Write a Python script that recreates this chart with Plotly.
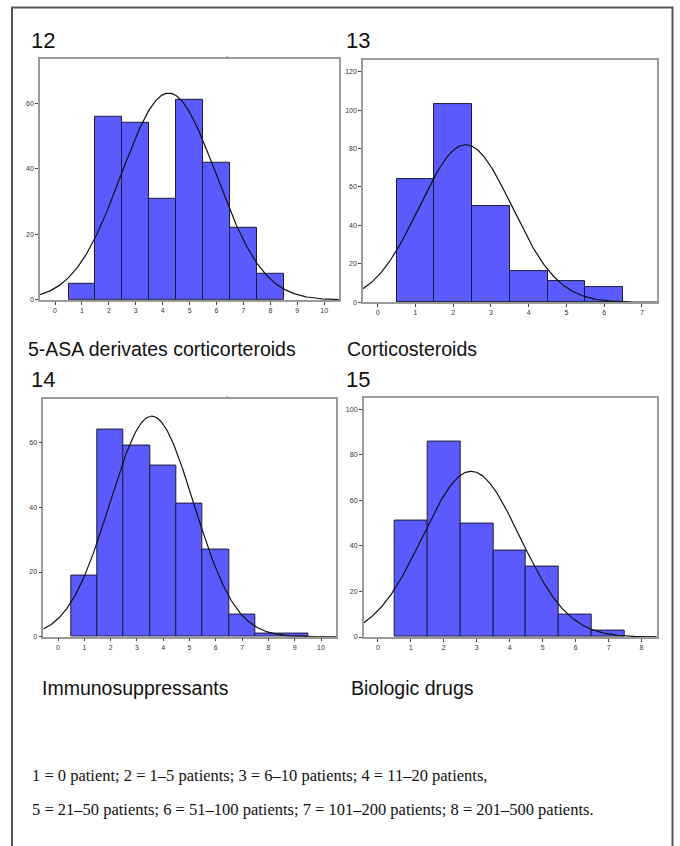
import numpy as np
import plotly.graph_objects as go

W, H = 680, 846

# ---------------- data ----------------
categories_12 = [1, 2, 3, 4, 5, 6, 7, 8]
counts_12 = [5, 56, 54, 31, 61, 42, 22, 8]

categories_13 = [1, 2, 3, 4, 5, 6]
counts_13 = [64, 103, 50, 16, 11, 8]

categories_14 = [1, 2, 3, 4, 5, 6, 7, 8, 9]
counts_14 = [19, 64, 59, 53, 41, 27, 7, 1, 1]

categories_15 = [1, 2, 3, 4, 5, 6, 7]
counts_15 = [51, 86, 50, 38, 31, 10, 3]

panel_labels = ["12", "13", "14", "15"]
captions = ["5-ASA derivates corticorteroids", "Corticosteroids",
            "Immunosuppressants", "Biologic drugs"]
x_tick_values_12 = list(range(0, 11))
x_tick_values_13 = list(range(0, 8))
x_tick_values_14 = list(range(0, 11))
x_tick_values_15 = list(range(0, 9))
y_tick_values_12 = [0, 20, 40, 60]
y_tick_values_13 = [0, 20, 40, 60, 80, 100, 120]
y_tick_values_14 = [0, 20, 40, 60]
y_tick_values_15 = [0, 20, 40, 60, 80, 100]
footnote_lines = [
    "1 = 0 patient; 2 = 1\u20135 patients; 3 = 6\u201310 patients; 4 = 11\u201320 patients,",
    "5 = 21\u201350 patients; 6 = 51\u2013100 patients; 7 = 101\u2013200 patients; 8 = 201\u2013500 patients.",
]

series = [
    (categories_12, counts_12, x_tick_values_12, y_tick_values_12),
    (categories_13, counts_13, x_tick_values_13, y_tick_values_13),
    (categories_14, counts_14, x_tick_values_14, y_tick_values_14),
    (categories_15, counts_15, x_tick_values_15, y_tick_values_15),
]

# ---------------- layout geometry (pixels) ----------------
# (left, top, right, bottom) of each plot box, axis ranges
boxes = [
    (40, 59, 339, 301),
    (363, 60.3, 657, 303.3),
    (43.3, 400, 336, 639),
    (363.7, 399, 656.7, 639.3),
]
xranges = [(-0.56, 10.55), (-0.39, 7.40), (-0.56, 10.57), (-0.43, 8.46)]
yranges = [(0, 73.6), (0, 126), (0, 73.6), (0, 105.2)]

BAR_COLOR = "#5A5AFF"
BAR_LINE = "#1c1c3a"
FRAME = "#9a9a9a"


def px_x(v):
    return v / W


def px_y(v):
    return 1 - v / H


fig = go.Figure()
layout_axes = {}
for i, ((cats, cnts, xt, yt), box, xr, yr) in enumerate(zip(series, boxes, xranges, yranges)):
    n = i + 1
    xa = "x" if n == 1 else f"x{n}"
    ya = "y" if n == 1 else f"y{n}"
    fig.add_trace(go.Bar(
        x=cats, y=cnts, width=1.0, xaxis=xa, yaxis=ya,
        marker=dict(color=BAR_COLOR, line=dict(color=BAR_LINE, width=1)),
        showlegend=False, hoverinfo="x+y",
    ))
    # normal curve fitted to the histogram (mean / sample sd of the counts)
    c = np.array(cats, dtype=float)
    w = np.array(cnts, dtype=float)
    N = w.sum()
    mu = (c * w).sum() / N
    sd = np.sqrt(((c - mu) ** 2 * w).sum() / (N - 1))
    xs = np.linspace(xr[0], xr[1], 300)
    ys = N / (sd * np.sqrt(2 * np.pi)) * np.exp(-0.5 * ((xs - mu) / sd) ** 2)
    fig.add_trace(go.Scatter(
        x=xs, y=ys, mode="lines", xaxis=xa, yaxis=ya,
        line=dict(color="#111111", width=1.2), showlegend=False, hoverinfo="skip",
    ))
    l, t, r, b = box
    xkey = "xaxis" if n == 1 else f"xaxis{n}"
    ykey = "yaxis" if n == 1 else f"yaxis{n}"
    common = dict(showgrid=False, zeroline=False, showline=True, mirror=True,
                  linecolor=FRAME, linewidth=1.5, ticks="outside", ticklen=3,
                  tickwidth=1, tickcolor="#444444",
                  tickfont=dict(family="Liberation Sans, Arial", size=7, color="#333333"),
                  fixedrange=True)
    layout_axes[xkey] = dict(common, domain=[px_x(l), px_x(r)], range=list(xr),
                             anchor=ya, tickmode="array", tickvals=xt,
                             ticktext=[str(v) for v in xt])
    layout_axes[ykey] = dict(common, domain=[px_y(b), px_y(t)], range=list(yr),
                             anchor=xa, tickmode="array", tickvals=yt,
                             ticktext=[str(v) for v in yt])

fig.update_layout(**layout_axes)

annotations = []
label_pos = [(29, 41), (344, 41), (29, 381), (344, 381)]
for txt, (x, y) in zip(panel_labels, label_pos):
    annotations.append(dict(text=txt, x=px_x(x), y=px_y(y), xref="paper", yref="paper",
                            xanchor="left", yanchor="middle", showarrow=False,
                            font=dict(family="Liberation Sans, Arial", size=22, color="#111111")))
cap_pos = [(26, 350), (345, 350), (40, 690), (349, 690)]
for txt, (x, y) in zip(captions, cap_pos):
    annotations.append(dict(text=txt, x=px_x(x), y=px_y(y), xref="paper", yref="paper",
                            xanchor="left", yanchor="middle", showarrow=False,
                            font=dict(family="Liberation Sans, Arial", size=19.5, color="#111111")))
for txt, y in zip(footnote_lines, [778, 812]):
    annotations.append(dict(text=txt, x=px_x(30), y=px_y(y), xref="paper", yref="paper",
                            xanchor="left", yanchor="middle", showarrow=False,
                            font=dict(family="Liberation Serif, Times New Roman", size=16.5,
                                      color="#111111")))
# small stray marks above left panels
for y in [56, 397]:
    annotations.append(dict(text="-", x=px_x(227), y=px_y(y), xref="paper", yref="paper",
                            xanchor="center", yanchor="middle", showarrow=False,
                            font=dict(family="Liberation Sans", size=8, color="#777777")))

shapes = [dict(type="rect", xref="paper", yref="paper",
               x0=px_x(12), x1=px_x(672.5), y0=px_y(870), y1=px_y(7.5),
               line=dict(color="#555555", width=2), fillcolor="rgba(0,0,0,0)", layer="below")]

fig.update_layout(
    width=W, height=H, margin=dict(l=0, r=0, t=0, b=0),
    paper_bgcolor="white", plot_bgcolor="white",
    annotations=annotations, shapes=shapes, bargap=0,
)

fig.write_html("out.html")
